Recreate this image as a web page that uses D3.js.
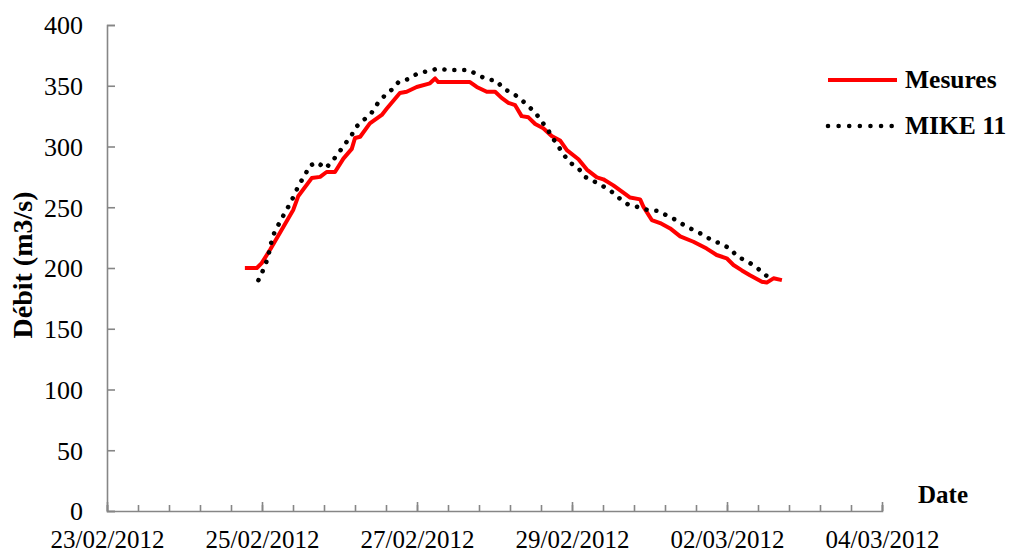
<!DOCTYPE html>
<html>
<head>
<meta charset="utf-8">
<script src="https://cdn.jsdelivr.net/npm/d3@7"></script>
<style>
  html, body { margin: 0; padding: 0; background: #fff; }
  svg { display: block; }
  text { font-family: "Liberation Serif", "Times New Roman", serif; fill: #000; }
</style>
</head>
<body>
<svg id="chart" width="1011" height="554"></svg>
<script>
// Hydrograph: measured discharge vs. MIKE 11 simulation
const startDate = new Date(2012, 1, 23);
const endDate = new Date(2012, 2, 4);

// Measured discharge (hours after 23/02/2012 00:00, m3/s)
const mesuresHours = [42.7, 46.4, 47.9, 50.5, 57.7, 59.2, 63.4, 66.0, 68.0, 70.6, 73.2, 75.8, 76.8, 78.4, 81.4, 85.1, 86.6, 90.7, 92.8, 95.9, 100.0, 101.6, 102.6, 112.4, 114.5, 117.6, 120.2, 122.2, 124.3, 126.4, 128.4, 130.5, 132.6, 135.1, 137.7, 140.3, 142.4, 146.0, 148.6, 151.7, 153.7, 156.8, 159.9, 162.0, 165.1, 166.1, 168.7, 171.3, 174.4, 177.5, 181.6, 185.7, 188.8, 191.9, 194.0, 196.6, 199.1, 202.8, 204.3, 206.4, 209.0];
const mesuresValues = [200, 200, 204, 215, 248, 259, 274, 275, 279, 279, 290, 298, 307, 308, 319, 326, 331, 344, 345, 349, 352, 356, 353, 353, 349, 345, 345, 340, 336, 334, 325, 324, 318.5, 315, 308.6, 305, 297, 289.5, 281, 274.6, 273, 268, 262, 258, 256.5, 250.5, 239.5, 237, 232.6, 226, 221.6, 216, 210.7, 208, 202.5, 198, 194, 188.7, 188, 191.5, 190];

// MIKE 11 simulated discharge
const mikeHours = [46.9, 48.3, 49.5, 50.3, 51.0, 52.0, 53.6, 55.1, 56.7, 58.0, 59.5, 61.3, 62.6, 65.1, 67.7, 69.8, 71.8, 73.7, 75.6, 77.1, 79.6, 82.0, 83.7, 85.9, 88.3, 90.4, 93.5, 96.1, 99.2, 102.3, 105.7, 108.9, 112.1, 114.7, 117.6, 120.7, 122.7, 125.6, 128.1, 130.3, 132.6, 134.5, 136.4, 138.0, 139.8, 141.5, 143.4, 146.0, 148.0, 150.6, 153.5, 156.3, 158.7, 161.3, 164.0, 167.5, 170.7, 173.5, 176.2, 179.0, 181.8, 184.7, 187.5, 190.4, 193.2, 195.2, 198.1, 200.9, 203.3, 204.5];
const mikeValues = [190, 198, 206, 214, 222.5, 230.5, 238, 245.6, 253, 260, 269, 276, 284, 287, 282, 288, 295, 302, 308.6, 316, 322, 328, 335, 341.6, 347, 353.4, 355.6, 360, 362, 364, 363, 363, 363, 359, 355.5, 354, 347.5, 344, 339, 333.6, 328, 321, 314.4, 307, 300, 293, 286.7, 282, 275, 271.6, 267.5, 262.8, 257.3, 252.4, 250.5, 247.7, 247, 243, 239.5, 234.8, 231, 227.2, 222.5, 219.8, 215.4, 209.3, 205.8, 201, 195.6, 193];

const yTicks = [0, 50, 100, 150, 200, 250, 300, 350, 400];
const seriesNames = ["Mesures", "MIKE 11"];
const yTitle = "Débit (m3/s)";
const xTitle = "Date";

const toDate = h => new Date(+startDate + h * 3600e3);

const svg = d3.select("#chart");
const plotLeft = 107, plotRight = 882, plotTop = 25, plotBottom = 511;
const axisColor = "#868686";
const serif = "Liberation Serif";

const x = d3.scaleTime().domain([startDate, endDate]).range([plotLeft, plotRight]);
const y = d3.scaleLinear().domain([0, 400]).range([plotBottom, plotTop]);

// Y axis (ticks point into the plot)
const yAxis = svg.append("g").attr("transform", `translate(${plotLeft},0)`)
  .call(d3.axisRight(y).tickValues(yTicks).tickSize(8).tickFormat(d3.format("d")))
  .attr("font-family", serif).attr("font-size", 26);
yAxis.select(".domain").attr("stroke", axisColor).attr("stroke-width", 1.6);
yAxis.selectAll(".tick line").attr("stroke", axisColor).attr("stroke-width", 1.6);
yAxis.selectAll(".tick text")
  .attr("x", -24).attr("text-anchor", "end").attr("dy", "0.34em");

// X axis: minor ticks every 9.6 h, major ticks every 2 days
const minorTicks = d3.range(0, 241, 9.6).map(toDate);
const majorTicks = d3.timeDay.range(startDate, d3.timeDay.offset(endDate, 1), 2);

const xMinor = svg.append("g").attr("transform", `translate(0,${plotBottom})`)
  .call(d3.axisTop(x).tickValues(minorTicks).tickSize(6).tickFormat(""));
xMinor.select(".domain").attr("stroke", axisColor).attr("stroke-width", 1.6);
xMinor.selectAll(".tick line").attr("stroke", axisColor).attr("stroke-width", 1.6);

const xMajor = svg.append("g").attr("transform", `translate(0,${plotBottom})`)
  .call(d3.axisTop(x).tickValues(majorTicks).tickSize(9).tickFormat(d3.timeFormat("%d/%m/%Y")))
  .attr("font-family", serif).attr("font-size", 25);
xMajor.select(".domain").remove();
xMajor.selectAll(".tick line").attr("stroke", axisColor).attr("stroke-width", 1.6);
xMajor.selectAll(".tick text")
  .attr("y", 37).attr("dy", 0).attr("text-anchor", "middle");

// Axis titles
svg.append("text")
  .attr("transform", "translate(32,265) rotate(-90)")
  .attr("text-anchor", "middle")
  .style("font-size", "28px").style("font-weight", "bold")
  .text(yTitle);

svg.append("text")
  .attr("x", 918).attr("y", 503)
  .style("font-size", "25px").style("font-weight", "bold")
  .text(xTitle);

// Series
const line = d3.line().x(d => x(d[0])).y(d => y(d[1]));
const mesures = mesuresHours.map((h, i) => [toDate(h), mesuresValues[i]]);
const mike = mikeHours.map((h, i) => [toDate(h), mikeValues[i]]);

svg.append("path").datum(mesures)
  .attr("d", line).attr("fill", "none")
  .attr("stroke", "#ff0000").attr("stroke-width", 4)
  .attr("stroke-linejoin", "round");

svg.append("path").datum(mike)
  .attr("d", line).attr("fill", "none")
  .attr("stroke", "#000").attr("stroke-width", 4.6)
  .attr("stroke-linecap", "round").attr("stroke-dasharray", "0.01 9.9");

// Legend
const legend = svg.append("g");
legend.append("line").attr("x1", 828).attr("x2", 897).attr("y1", 80).attr("y2", 80)
  .attr("stroke", "#ff0000").attr("stroke-width", 4);
legend.append("text").attr("x", 905).attr("y", 88)
  .style("font-size", "25.5px").style("font-weight", "bold").text(seriesNames[0]);
legend.append("line").attr("x1", 828).attr("x2", 892).attr("y1", 126).attr("y2", 126)
  .attr("stroke", "#000").attr("stroke-width", 4.6)
  .attr("stroke-linecap", "round").attr("stroke-dasharray", "0.01 10.6");
legend.append("text").attr("x", 905).attr("y", 134)
  .style("font-size", "25.5px").style("font-weight", "bold").text(seriesNames[1]);
</script>
</body>
</html>
